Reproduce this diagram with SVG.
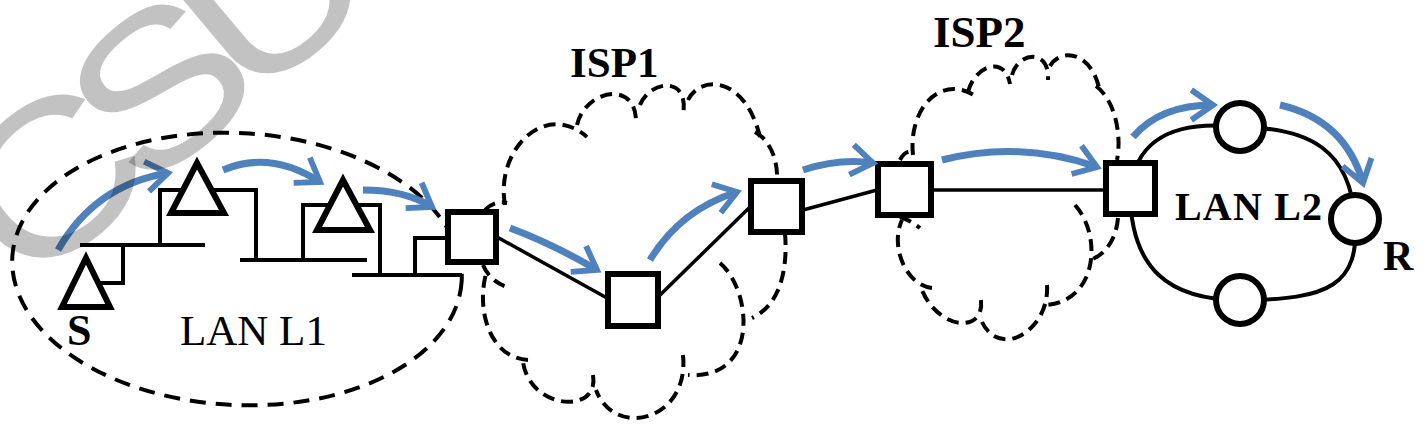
<svg xmlns="http://www.w3.org/2000/svg" width="1428" height="442" viewBox="0 0 1428 442">
<style>
.dash{fill:none;stroke:#000;stroke-width:4;stroke-dasharray:12 7}
.ell{fill:none;stroke:#000;stroke-width:4;stroke-dasharray:16 10}
.bus{fill:none;stroke:#000;stroke-width:4}
.link{fill:none;stroke:#000;stroke-width:3.5}
.ring{fill:none;stroke:#000;stroke-width:4}
.box{fill:#fff;stroke:#000;stroke-width:6}
.tri{fill:#fff;stroke:#000;stroke-width:6;stroke-linejoin:miter}
.circ{fill:#fff;stroke:#000;stroke-width:6}
.arr{fill:none;stroke:#4f81bd;stroke-width:7;marker-end:url(#ah)}
.lbl{font-family:"Liberation Serif","Times New Roman",serif;fill:#000}
.b{font-weight:bold}
</style>
<defs>
<marker id="ah" markerUnits="userSpaceOnUse" markerWidth="40" markerHeight="40" viewBox="-32 -24 40 48" refX="0" refY="0" orient="auto" overflow="visible">
<path d="M-26,-18 L0,0 L-26,18" fill="none" stroke="#4f81bd" stroke-width="7"/>
</marker>
</defs>
<rect width="1428" height="442" fill="#fff"/>

<g id="lanL1-boundary">
<ellipse cx="237" cy="269" rx="225" ry="136" class="ell" transform="rotate(3 237 269)"/>
</g>

<g id="isp1-cloud">
<path class="dash" d="M505,205 C495,150 545,100 587,137"/>
<path class="dash" d="M577,125 C585,90 635,80 636,120"/>
<path class="dash" d="M640,105 C650,80 690,75 683,115"/>
<path class="dash" d="M688,100 C700,75 745,75 760,137"/>
<path class="dash" d="M755,132 C770,140 778,160 777,180"/>
<path class="dash" d="M785,233 C788,270 780,305 752,318"/>
<path class="dash" d="M720,263 C752,290 760,380 688,375"/>
<path class="dash" d="M683,355 C690,420 615,440 596,390"/>
<path class="dash" d="M593,375 C600,415 530,410 523,362"/>
<path class="dash" d="M528,360 C490,358 475,310 487,270"/>
<path class="dash" d="M483,265 Q490,282 510,288"/>
<path class="dash" d="M485,210 Q495,200 507,203"/>
</g>

<g id="isp2-cloud">
<path class="dash" d="M913,155 C908,110 940,72 977,97"/>
<path class="dash" d="M968,92 C975,65 1005,55 1010,84"/>
<path class="dash" d="M1012,75 C1018,52 1050,48 1048,80"/>
<path class="dash" d="M1050,66 C1060,48 1092,50 1100,92"/>
<path class="dash" d="M1096,86 C1115,100 1122,135 1117,160"/>
<path class="dash" d="M1118,218 C1116,240 1105,255 1090,260"/>
<path class="dash" d="M1075,205 C1102,235 1098,300 1047,305"/>
<path class="dash" d="M1047,285 C1050,330 1000,360 982,322"/>
<path class="dash" d="M981,300 C985,335 935,330 920,285"/>
<path class="dash" d="M932,288 C905,285 890,245 902,220"/>
<path class="dash" d="M900,217 Q910,220 920,228"/>
<path class="dash" d="M900,160 Q905,150 913,152"/>
</g>

<g id="connectors">
<path class="bus" d="M100,283 H123 V245"/>
<path class="bus" d="M80,245 H205"/>
<path class="bus" d="M160,245 V190 H256 V260"/>
<path class="bus" d="M240,260 H367"/>
<path class="bus" d="M303,260 V205 H380 V275"/>
<path class="bus" d="M352,275 H462"/>
<path class="bus" d="M415,275 V238 H447"/>
<path class="link" d="M497,237 L607,298"/>
<path class="link" d="M658,297 L750,207"/>
<path class="link" d="M803,210 L877,190"/>
<path class="link" d="M932,190 H1105"/>
<path class="ring" d="M1130,190 C1135,150 1160,118 1240,127 C1310,128 1350,150 1355,219 C1360,285 1330,300 1240,300 C1170,300 1130,270 1130,190 Z"/>
</g>

<g id="node-S"><path class="tri" d="M86,258 L110,307 L62,307 Z"/></g>
<g id="node-h2"><path class="tri" d="M197,163 L224,213 L171,213 Z"/></g>
<g id="node-h3"><path class="tri" d="M343,180 L370,230 L317,230 Z"/></g>
<g id="router-1"><rect class="box" x="448" y="212" width="48" height="50"/></g>
<g id="router-2"><rect class="box" x="608" y="274" width="50" height="52"/></g>
<g id="router-3"><rect class="box" x="751" y="181" width="51" height="51"/></g>
<g id="router-4"><rect class="box" x="878" y="164" width="53" height="51"/></g>
<g id="router-5"><rect class="box" x="1106" y="163" width="49" height="51"/></g>
<g id="node-l2-top"><circle class="circ" cx="1240" cy="127" r="24"/></g>
<g id="node-R"><circle class="circ" cx="1355" cy="219" r="24"/></g>
<g id="node-l2-bottom"><circle class="circ" cx="1240" cy="300" r="24"/></g>

<g id="path-arrows">
<path class="arr" d="M58,250 Q95,185 168,173"/>
<path class="arr" d="M223,170 Q270,150 320,182"/>
<path class="arr" d="M363,190 Q405,190 432,207"/>
<path class="arr" d="M510,228 Q555,245 597,270"/>
<path class="arr" d="M650,260 Q680,210 737,192"/>
<path class="arr" d="M803,170 Q840,158 873,163"/>
<path class="arr" d="M942,160 Q1020,140 1097,167"/>
<path class="arr" d="M1133,137 Q1160,105 1213,105"/>
<path class="arr" d="M1280,105 Q1345,120 1363,183"/>
</g>

<g id="labels">
<text class="lbl b" x="67" y="345" font-size="44">S</text>
<text class="lbl" x="180" y="345" font-size="43">LAN L1</text>
<text class="lbl b" x="570" y="77" font-size="43">ISP1</text>
<text class="lbl b" x="933" y="47" font-size="45">ISP2</text>
<text class="lbl b" x="1175" y="220" font-size="40" textLength="147" lengthAdjust="spacing">LAN L2</text>
<text class="lbl b" x="1383" y="270" font-size="42">R</text>
</g>

<g id="watermark">
<text x="0" y="0" font-family="'Liberation Sans',Arial,sans-serif" font-size="210" fill="#000" fill-opacity="0.24" text-anchor="middle" letter-spacing="-25" transform="translate(195 152) rotate(-40) scale(1.2 1)">CSU</text>
</g>
</svg>
